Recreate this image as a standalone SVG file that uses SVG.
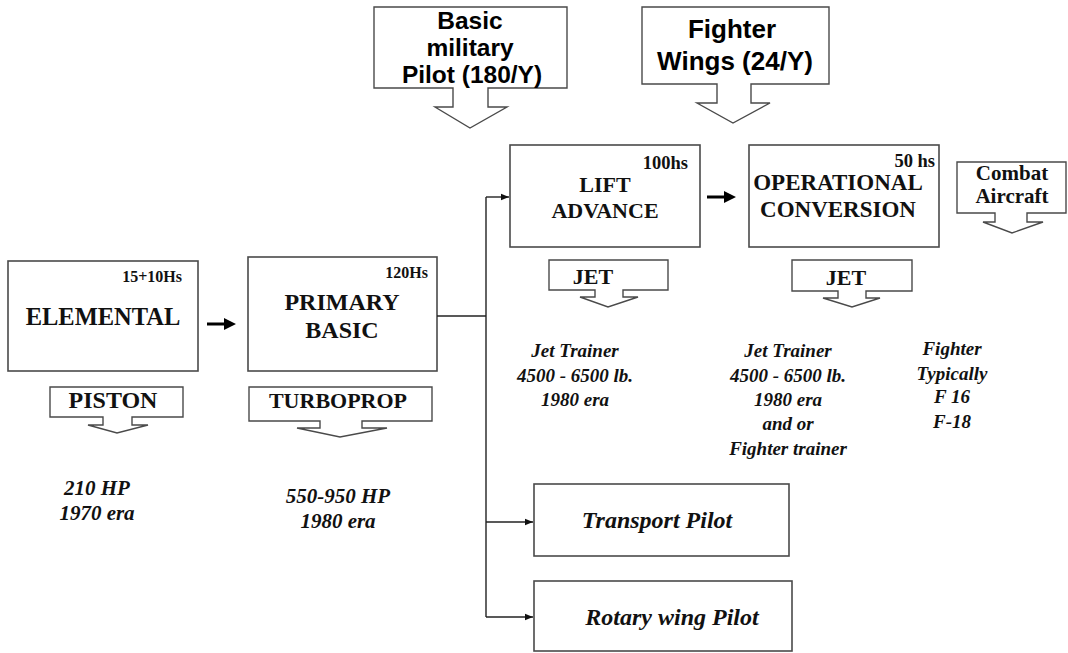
<svg xmlns="http://www.w3.org/2000/svg" width="1068" height="653" viewBox="0 0 1068 653">
<style>
.box{fill:#fff;stroke:#4a4a4a;stroke-width:1.6}
.call{fill:#fff;stroke:#4a4a4a;stroke-width:1.4;stroke-linejoin:miter}
.sans{font-family:"Liberation Sans",Arial,sans-serif;font-weight:bold;fill:#000;text-anchor:middle}
.ser{font-family:"Liberation Serif","Times New Roman",serif;font-weight:bold;fill:#111;text-anchor:middle}
.it{font-family:"Liberation Serif","Times New Roman",serif;font-weight:bold;font-style:italic;fill:#111;text-anchor:middle}
.hr{font-family:"Liberation Serif","Times New Roman",serif;font-weight:bold;fill:#111;text-anchor:end}
.ln{fill:none;stroke:#222;stroke-width:1.4}
</style>
<defs>
<marker id="ah" viewBox="0 0 10 10" refX="10" refY="5" markerWidth="8" markerHeight="8" markerUnits="userSpaceOnUse" orient="auto">
<path d="M0,1 L10,5 L0,9 Z" fill="#111"/>
</marker>
</defs>
<rect width="1068" height="653" fill="#fff"/>

<g id="callout-basic-military">
<path class="call" d="M374,7 H567 V88 H488 V107 H507 L470,128 L435,107 H453 V88 H374 Z"/>
<text class="sans" x="470" y="29" font-size="24.5">Basic</text>
<text class="sans" x="470" y="56" font-size="24.5">military</text>
<text class="sans" x="472" y="83" font-size="24.5">Pilot (180/Y)</text>
</g>

<g id="callout-fighter-wings">
<path class="call" d="M642,7 H829 V84 H751 V103 H770 L733,123 L697,103 H717 V84 H642 Z"/>
<text class="sans" x="732" y="38" font-size="26">Fighter</text>
<text class="sans" x="735" y="70" font-size="26">Wings (24/Y)</text>
</g>

<g id="node-elemental">
<rect class="box" x="8" y="261" width="190" height="110"/>
<text class="hr" x="182" y="282" font-size="16">15+10Hs</text>
<text class="ser" x="103" y="325" font-size="24.5">ELEMENTAL</text>
</g>

<g id="node-primary-basic">
<rect class="box" x="248" y="257" width="189" height="114"/>
<text class="hr" x="428" y="278" font-size="16">120Hs</text>
<text class="ser" x="342" y="310" font-size="24">PRIMARY</text>
<text class="ser" x="342" y="338" font-size="24">BASIC</text>
</g>

<g id="node-lift-advance">
<rect class="box" x="510" y="145" width="190" height="102"/>
<text class="hr" x="688" y="169" font-size="18.5">100hs</text>
<text class="ser" x="605" y="192" font-size="22">LIFT</text>
<text class="ser" x="605" y="218" font-size="22">ADVANCE</text>
</g>

<g id="node-operational-conversion">
<rect class="box" x="749" y="145" width="190" height="102"/>
<text class="hr" x="935" y="167" font-size="18.5">50 hs</text>
<text class="ser" x="838" y="190" font-size="23">OPERATIONAL</text>
<text class="ser" x="838" y="217" font-size="23">CONVERSION</text>
</g>

<g id="callout-combat-aircraft">
<path class="call" d="M957,162 H1066 V213 H1027 V222 H1043 L1012,233 L983,222 H995 V213 H957 Z"/>
<text class="ser" x="1012" y="180" font-size="21">Combat</text>
<text class="ser" x="1012" y="203" font-size="21">Aircraft</text>
</g>

<g id="callout-piston">
<path class="call" d="M50,387 H183 V417 H132 V425 H148 L117,433 L88,425 H103 V417 H50 Z"/>
<text class="ser" x="113" y="408" font-size="24">PISTON</text>
</g>

<g id="callout-turboprop">
<path class="call" d="M249,387 H432 V421 H362 V428 H387 L340,437 L297,428 H320 V421 H249 Z"/>
<text class="ser" x="338" y="408" font-size="22">TURBOPROP</text>
</g>

<g id="callout-jet-lift">
<path class="call" d="M549,260 H668 V290 H623 V297 H638 L608,307 L580,297 H595 V290 H549 Z"/>
<text class="ser" x="593" y="284" font-size="22">JET</text>
</g>

<g id="callout-jet-op">
<path class="call" d="M792,260 H912 V291 H866 V298 H880 L852,307 L823,298 H838 V291 H792 Z"/>
<text class="ser" x="846" y="285" font-size="22">JET</text>
</g>

<g id="label-piston">
<text class="it" x="97" y="495" font-size="21">210 HP</text>
<text class="it" x="97" y="520" font-size="21">1970 era</text>
</g>
<g id="label-turboprop">
<text class="it" x="338" y="503" font-size="21">550-950 HP</text>
<text class="it" x="338" y="528" font-size="21">1980 era</text>
</g>
<g id="label-lift">
<text class="it" x="575" y="357" font-size="19">Jet Trainer</text>
<text class="it" x="575" y="382" font-size="19">4500 - 6500 lb.</text>
<text class="it" x="575" y="406" font-size="19">1980 era</text>
</g>
<g id="label-op">
<text class="it" x="788" y="357" font-size="19">Jet Trainer</text>
<text class="it" x="788" y="382" font-size="19">4500 - 6500 lb.</text>
<text class="it" x="788" y="406" font-size="19">1980 era</text>
<text class="it" x="788" y="430" font-size="19">and or</text>
<text class="it" x="788" y="455" font-size="19">Fighter trainer</text>
</g>
<g id="label-fighter">
<text class="it" x="952" y="355" font-size="19">Fighter</text>
<text class="it" x="952" y="380" font-size="19">Typically</text>
<text class="it" x="952" y="403" font-size="19">F 16</text>
<text class="it" x="952" y="428" font-size="19">F-18</text>
</g>

<g id="node-transport-pilot">
<rect class="box" x="534" y="484" width="255" height="72"/>
<text class="it" x="657" y="528" font-size="24">Transport Pilot</text>
</g>

<g id="node-rotary-wing-pilot">
<rect class="box" x="534" y="581" width="258" height="70"/>
<text class="it" x="672" y="625" font-size="24">Rotary wing Pilot</text>
</g>

<g id="connectors">
<path d="M207,322.5 H224 V318 L236,324 L224,330 V325.5 H207 Z" fill="#000"/>
<path d="M707,195.5 H724 V191 L736,197 L724,203 V198.5 H707 Z" fill="#000"/>
<path class="ln" d="M437,316 H486"/>
<path class="ln" d="M486,197 V617"/>
<path class="ln" d="M486,197 H509" marker-end="url(#ah)"/>
<path class="ln" d="M486,522 H533" marker-end="url(#ah)"/>
<path class="ln" d="M486,617 H533" marker-end="url(#ah)"/>
</g>
</svg>
